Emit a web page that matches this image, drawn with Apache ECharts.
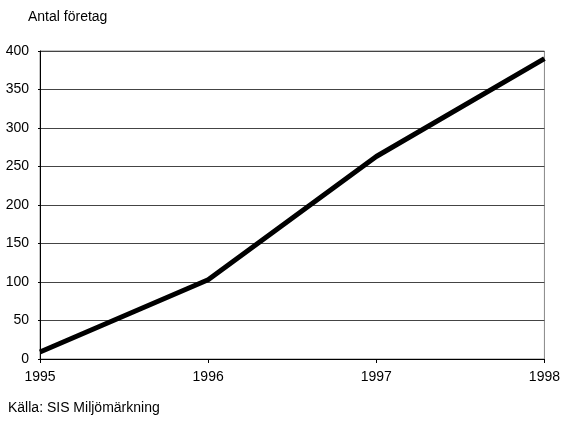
<!DOCTYPE html>
<html>
<head>
<meta charset="utf-8">
<script src="https://cdn.jsdelivr.net/npm/echarts@6/dist/echarts.min.js"></script>
<style>
  html, body { margin: 0; padding: 0; background: #fff; }
  #chart { width: 563px; height: 423px; }
</style>
</head>
<body>
<div id="chart"></div>
<script>
// år och antal miljömärkta företag
const years = ['1995', '1996', '1997', '1998']
const antal = [9, 103, 263, 390]
const yTicks = [0, 50, 100, 150, 200, 250, 300, 350, 400]

const font = '"Liberation Sans", Arial, sans-serif'

const chart = echarts.init(document.getElementById('chart'))
chart.setOption({
  animation: false,
  textStyle: { fontFamily: font },
  title: [{
    text: 'Antal företag',
    left: 23,
    top: 5,
    textStyle: { fontFamily: font, fontSize: 14, fontWeight: 'normal', color: '#000' }
  }, {
    text: 'Källa: SIS Miljömärkning',
    left: 3,
    top: 396,
    textStyle: { fontFamily: font, fontSize: 14, fontWeight: 'normal', color: '#000' }
  }],
  grid: {
    left: 40,
    right: 15,
    top: 51,
    bottom: 64,
    show: true,
    borderColor: '#888',
    borderWidth: 1
  },
  xAxis: {
    type: 'category',
    data: years,
    boundaryGap: false,
    axisLine: { lineStyle: { color: '#000', width: 1 } },
    axisTick: { show: true, length: 4, lineStyle: { color: '#000' } },
    axisLabel: { color: '#000', fontSize: 14, margin: 11 },
    splitLine: { show: false }
  },
  yAxis: {
    type: 'value',
    min: 0,
    max: yTicks[yTicks.length - 1],
    interval: yTicks[1] - yTicks[0],
    axisLine: { show: true, lineStyle: { color: '#000', width: 1 } },
    axisTick: { show: true, length: 2, lineStyle: { color: '#000' } },
    axisLabel: { color: '#000', fontSize: 14, margin: 11, verticalAlign: 'middle', padding: [0, 0, 5, 0] },
    splitLine: { show: true, lineStyle: { color: '#444', width: 1 } }
  },
  series: [{
    type: 'line',
    data: antal,
    symbol: 'none',
    lineStyle: { color: '#000', width: 5 }
  }]
})
</script>
</body>
</html>
